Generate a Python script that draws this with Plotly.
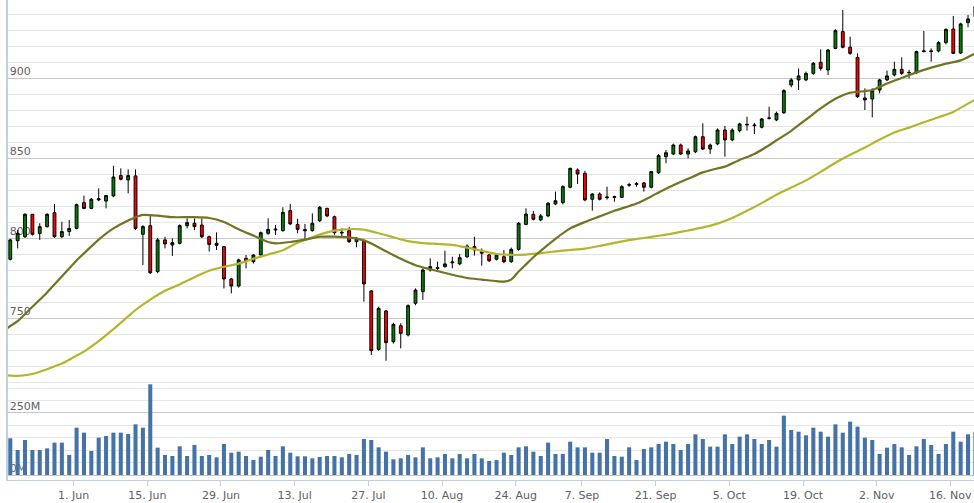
import numpy as np
import pandas as pd
import plotly.graph_objects as go

# ---- categories: trading days (UK calendar) ----
holidays = ["2015-05-25", "2015-08-31"]
dates = [d for d in pd.bdate_range("2015-05-18", "2015-11-19") if d.strftime("%Y-%m-%d") not in holidays]
date_keys = [d.strftime("%Y-%m-%d") for d in dates]

# ---- OHLC values ----
open_ = [786.7, 798.3, 800.8, 814.8, 802.9, 807.1, 815.8, 800.8, 804.0, 806.0,
         822.1, 818.5, 823.8, 823.1, 826.3, 839.0, 836.3, 838.8, 802.3, 807.7,
         779.0, 798.8, 795.6, 796.7, 807.7, 809.2, 808.1, 800.8, 796.7, 794.6,
         774.4, 770.0, 787.3, 785.2, 789.4, 802.9, 805.0, 804.6, 817.1, 808.5,
         804.5, 804.6, 810.8, 818.5, 813.3, 803.1, 804.6, 797.7, 798.1, 766.9,
         730.4, 754.4, 735.2, 745.2, 739.4, 759.2, 766.5, 780.0, 781.0, 782.1,
         784.5, 783.8, 788.3, 794.6, 791.5, 789.4, 786.7, 788.3, 785.2, 792.9,
         808.5, 814.8, 811.3, 813.8, 821.3, 822.1, 831.7, 842.5, 840.4, 824.2,
         827.5, 825.2, 825.4, 825.4, 833.0, 833.5, 834.4, 831.7, 840.8, 850.8,
         852.5, 858.1, 852.5, 853.9, 863.3, 855.6, 858.8, 867.5, 861.3, 867.1,
         870.6, 870.2, 869.2, 874.8, 873.8, 878.3, 895.6, 898.8, 898.8, 902.9,
         909.8, 905.0, 918.5, 929.0, 919.2, 912.9, 887.5, 886.9, 892.5, 898.8,
         901.9, 905.4, 903.2, 903.3, 916.5, 916.5, 916.9, 922.1, 930.6, 915.6,
         934.6, 938.3]
high_ = [799.5, 805.0, 815.5, 815.0, 809.2, 815.5, 821.3, 810.2, 811.3, 821.5,
         826.5, 825.0, 831.0, 827.0, 845.2, 843.5, 842.9, 842.9, 808.0, 813.8,
         800.0, 800.8, 799.8, 808.5, 812.3, 812.3, 812.3, 801.5, 803.5, 795.0,
         775.0, 787.0, 789.4, 790.0, 804.0, 812.3, 808.1, 819.2, 821.3, 812.0,
         808.8, 815.4, 820.0, 819.0, 814.0, 806.0, 807.0, 800.5, 799.0, 767.5,
         757.1, 755.0, 747.0, 746.7, 758.5, 768.5, 781.0, 787.3, 785.2, 792.1,
         788.3, 790.0, 796.0, 800.8, 793.5, 790.0, 790.0, 792.5, 794.0, 810.0,
         818.5, 817.0, 815.0, 822.5, 829.0, 833.0, 844.0, 843.5, 842.0, 828.0,
         828.5, 832.1, 826.5, 833.0, 834.5, 835.0, 835.0, 842.0, 852.5, 855.0,
         859.0, 859.0, 856.0, 864.0, 871.7, 859.0, 868.5, 870.0, 868.5, 872.0,
         875.8, 872.0, 875.0, 882.1, 879.0, 893.0, 900.0, 906.0, 904.0, 910.0,
         917.9, 918.0, 930.5, 942.5, 925.8, 915.4, 893.5, 893.5, 899.5, 904.6,
         910.2, 912.9, 905.0, 917.0, 929.4, 918.5, 923.0, 931.0, 938.8, 934.5,
         939.4, 946.0]
low_ = [786.0, 793.5, 800.0, 801.5, 798.8, 806.5, 800.0, 800.0, 801.3, 805.5,
        818.0, 818.0, 823.0, 818.5, 825.5, 836.0, 827.9, 805.0, 783.1, 777.5,
        778.0, 793.5, 788.8, 796.0, 806.0, 805.0, 800.0, 791.5, 792.5, 768.5,
        765.4, 769.0, 781.0, 784.0, 789.0, 802.0, 801.9, 804.0, 808.0, 803.0,
        798.8, 804.0, 810.0, 813.0, 802.0, 800.4, 797.0, 794.2, 760.2, 726.9,
        729.5, 723.3, 734.0, 731.0, 738.5, 758.0, 761.3, 779.0, 779.0, 781.5,
        781.0, 783.0, 787.5, 789.0, 782.7, 785.0, 786.0, 784.2, 784.5, 792.0,
        808.0, 811.0, 810.5, 813.0, 820.5, 821.0, 831.0, 833.8, 823.0, 817.1,
        823.5, 824.0, 822.7, 825.0, 832.0, 832.0, 829.0, 831.0, 840.0, 846.7,
        852.0, 852.0, 849.8, 853.0, 855.0, 852.5, 858.0, 850.8, 860.5, 866.0,
        867.1, 865.0, 868.5, 874.0, 873.0, 877.5, 894.2, 892.5, 898.0, 902.0,
        904.6, 901.9, 918.0, 918.5, 914.5, 887.5, 880.0, 875.4, 890.4, 898.0,
        901.0, 902.0, 899.8, 902.5, 916.0, 910.2, 916.0, 921.0, 915.0, 915.0,
        931.7, 937.0]
close_ = [798.8, 802.9, 814.8, 802.3, 807.1, 814.8, 800.8, 804.0, 806.0, 820.8,
          818.5, 824.2, 824.5, 826.5, 838.1, 836.7, 839.0, 806.0, 807.1, 778.3,
          798.8, 796.3, 797.1, 807.7, 809.6, 807.1, 800.8, 796.0, 795.4, 774.4,
          770.0, 786.3, 785.2, 789.4, 803.3, 805.4, 805.5, 816.0, 808.8, 805.4,
          805.2, 809.2, 819.2, 813.8, 803.3, 803.5, 797.7, 799.8, 771.3, 729.6,
          756.0, 734.6, 746.0, 740.4, 757.7, 767.5, 780.0, 782.1, 781.5, 783.8,
          785.0, 787.7, 795.0, 792.5, 790.5, 785.8, 789.4, 785.2, 792.9, 809.2,
          815.0, 811.7, 813.8, 821.7, 823.3, 832.1, 843.5, 840.0, 823.8, 827.5,
          824.2, 825.6, 825.8, 832.1, 833.3, 833.9, 831.7, 841.5, 851.5, 853.3,
          858.1, 852.5, 854.4, 863.3, 855.6, 858.1, 867.5, 861.3, 867.5, 871.3,
          871.0, 870.6, 874.4, 875.0, 877.9, 892.1, 898.8, 901.3, 902.9, 909.2,
          906.0, 917.5, 929.6, 919.2, 915.4, 888.3, 886.3, 892.1, 898.8, 901.3,
          905.4, 902.9, 903.5, 916.5, 916.9, 916.9, 922.1, 930.4, 915.4, 933.8,
          936.9, 944.6]

# ---- volume (millions) ----
volume = [147.8, 100.8, 141.1, 100.8, 100.8, 107.5, 130.4, 130.4, 80.6, 190.8,
          170.7, 96.8, 150.5, 157.2, 170.7, 170.7, 165.3, 204.3, 190.8, 365.6,
          110.2, 80.6, 76.6, 115.6, 76.6, 121.0, 76.6, 80.6, 71.2, 125.0,
          90.0, 94.1, 76.6, 60.5, 73.9, 100.8, 76.6, 115.6, 90.0, 75.3,
          75.3, 67.2, 72.5, 76.6, 76.6, 71.2, 84.7, 80.6, 145.2, 141.1,
          111.5, 94.1, 63.2, 67.2, 80.6, 71.2, 111.5, 67.2, 71.2, 84.7,
          67.2, 84.7, 67.2, 84.7, 67.2, 56.4, 60.5, 90.0, 80.6, 111.5,
          115.6, 94.1, 76.6, 130.4, 84.7, 84.7, 134.4, 111.5, 111.5, 90.0,
          90.0, 145.2, 76.6, 73.9, 111.5, 60.5, 104.8, 111.5, 125.0, 134.4,
          125.0, 100.8, 125.0, 164.0, 145.2, 114.2, 114.2, 164.0, 125.0, 154.6,
          164.0, 145.2, 125.0, 141.1, 114.2, 239.2, 181.4, 174.7, 159.9, 190.8,
          174.7, 154.6, 204.3, 170.7, 215.0, 194.9, 150.5, 141.1, 84.7, 110.2,
          125.0, 111.5, 80.6, 115.6, 145.2, 121.0, 84.7, 125.0, 174.7, 134.4,
          164.0, 174.7]

# ---- moving averages (at trading-day positions) ----
ma_short_pos = [-1, 0, 1, 3, 5, 7, 9, 10, 12, 14, 16, 17, 18, 20, 22, 25, 27, 29, 31, 33,
                35, 36, 38, 40, 42, 44, 46, 48, 49, 51, 53, 55, 57, 60, 62, 64, 66, 67, 68, 69,
                70, 71, 72, 74, 76, 78, 80, 82, 85, 87, 88, 90, 92, 94, 96, 97, 99, 101, 103, 104,
                106, 108, 110, 112, 114, 116, 117, 119, 121, 123, 125, 127, 129, 131]
ma_short = [741.5, 745.0, 748.0, 757.0, 766.0, 776.0, 786.0, 790.4, 799.0, 806.0, 811.0, 813.0, 814.4,
            814.0, 813.0, 813.0, 812.5, 810.0, 805.5, 801.5, 797.5, 796.7, 797.5, 799.0, 800.8,
            800.8, 800.4, 798.5, 796.5, 791.7, 787.0, 783.0, 780.5, 777.0, 775.0, 774.0, 773.0,
            772.7, 774.0, 779.0, 783.5, 788.0, 792.0, 799.5, 806.0, 810.0, 813.5, 817.0, 821.5,
            826.0, 828.5, 833.0, 837.0, 841.0, 843.5, 844.6, 848.8, 852.5, 858.0, 861.0, 867.0,
            874.0, 881.0, 887.0, 890.8, 891.8, 892.5, 896.5, 900.0, 903.5, 906.5, 909.0, 911.0,
            915.5]
ma_long_pos = [-1, 0, 1, 3, 5, 7, 9, 10, 12, 14, 16, 17, 19, 21, 23, 25, 27, 29, 31, 33,
               35, 37, 39, 41, 43, 45, 47, 48, 50, 52, 54, 56, 58, 60, 62, 64, 66, 68, 70, 72,
               74, 76, 78, 80, 82, 84, 86, 88, 90, 92, 94, 96, 98, 100, 102, 104, 106, 108, 110, 112,
               114, 116, 118, 120, 122, 124, 126, 128, 130, 131]
ma_long = [714.5, 714.0, 713.8, 715.0, 718.0, 721.5, 726.5, 729.0, 735.5, 743.0, 751.0, 755.0,
           761.5, 767.0, 771.0, 775.5, 779.5, 782.0, 784.0, 787.0, 789.7, 792.3, 797.0, 800.5,
           803.5, 805.2, 805.6, 805.2, 803.0, 800.5, 798.0, 796.8, 796.3, 795.7, 794.0, 792.0,
           790.0, 789.4, 789.6, 790.6, 791.6, 792.5, 793.4, 795.0, 797.0, 798.7, 800.0, 801.4,
           802.9, 804.7, 806.6, 809.0, 812.5, 817.0, 821.8, 827.0, 831.5, 836.0, 841.3, 847.0,
           852.0, 856.5, 861.5, 866.0, 869.0, 872.3, 875.5, 878.8, 884.0, 886.5]

# ---- x tick labels ----
tick_dates = ["2015-06-01", "2015-06-15", "2015-06-29", "2015-07-13", "2015-07-27", "2015-08-10",
              "2015-08-24", "2015-09-07", "2015-09-21", "2015-10-05", "2015-10-19", "2015-11-02",
              "2015-11-16"]
tick_labels = ["1. Jun", "15. Jun", "29. Jun", "13. Jul", "27. Jul", "10. Aug", "24. Aug",
               "7. Sep", "21. Sep", "5. Oct", "19. Oct", "2. Nov", "16. Nov"]

x = np.arange(len(dates))
TICK_SHIFT = 0.4
tickvals = [date_keys.index(d) - TICK_SHIFT for d in tick_dates]

FONT = "DejaVu Sans"
LABEL_COLOR = "#606060"
AXIS_LINE = "#C0D0E0"

fig = go.Figure()
fig.add_trace(go.Candlestick(
    x=x, open=open_, high=high_, low=low_, close=close_,
    increasing=dict(fillcolor="#008000", line=dict(color="#000000", width=1)),
    decreasing=dict(fillcolor="#FF0000", line=dict(color="#000000", width=1)),
    whiskerwidth=0, xaxis="x", yaxis="y", showlegend=False,
))
fig.add_trace(go.Scatter(
    x=ma_long_pos, y=ma_long, mode="lines",
    line=dict(color="#B5B52B", width=2.2, shape="spline", smoothing=0.6),
    xaxis="x", yaxis="y", showlegend=False,
))
fig.add_trace(go.Scatter(
    x=ma_short_pos, y=ma_short, mode="lines",
    line=dict(color="#737324", width=2.2, shape="spline", smoothing=0.6),
    xaxis="x", yaxis="y", showlegend=False,
))
fig.add_trace(go.Bar(
    x=x, y=volume, width=0.55, marker=dict(color="#4572A7", line=dict(width=0)),
    xaxis="x", yaxis="y2", showlegend=False,
))

fig.update_layout(
    width=974, height=503,
    margin=dict(l=8, r=0, t=0, b=23),
    paper_bgcolor="white", plot_bgcolor="white",
    boxgap=0.45,
    font=dict(family=FONT, size=11, color=LABEL_COLOR),
    xaxis=dict(
        range=[-0.31, 130.81], anchor="y2",
        rangeslider=dict(visible=False),
        tickmode="array", tickvals=tickvals, ticktext=tick_labels,
        ticks="outside", ticklen=5, tickcolor=AXIS_LINE, tickwidth=1,
        showline=True, linecolor=AXIS_LINE, linewidth=1,
        showgrid=False, zeroline=False,
        tickfont=dict(family=FONT, size=11, color=LABEL_COLOR),
    ),
    yaxis=dict(
        domain=[0.2, 1.0], range=[708.75, 948.75], anchor="x",
        dtick=50, tick0=0, showgrid=True, gridcolor="#C8C8C8", gridwidth=1,
        minor=dict(dtick=10, showgrid=True, gridcolor="#E6E6E6", gridwidth=1),
        ticklabelposition="inside", ticks="", ticklabelshift=-7, ticklabelstandoff=1,
        showline=True, linecolor=AXIS_LINE, linewidth=2,
        zeroline=False, layer="below traces",
        tickfont=dict(family=FONT, size=11, color=LABEL_COLOR),
    ),
    yaxis2=dict(
        domain=[0.0, 0.2], range=[-20.16, 366.9], anchor="x",
        dtick=250, tick0=0, ticksuffix="M", showgrid=True, gridcolor="#C8C8C8", gridwidth=1,
        minor=dict(dtick=50, showgrid=True, gridcolor="#E6E6E6", gridwidth=1),
        ticklabelposition="inside", ticks="", ticklabelshift=-7, ticklabelstandoff=1,
        showline=True, linecolor=AXIS_LINE, linewidth=2,
        zeroline=False, layer="below traces",
        tickfont=dict(family=FONT, size=11, color=LABEL_COLOR),
    ),
)

fig.write_html("out.html", config={"displayModeBar": False},
               post_script="document.body.style.margin='0';")
